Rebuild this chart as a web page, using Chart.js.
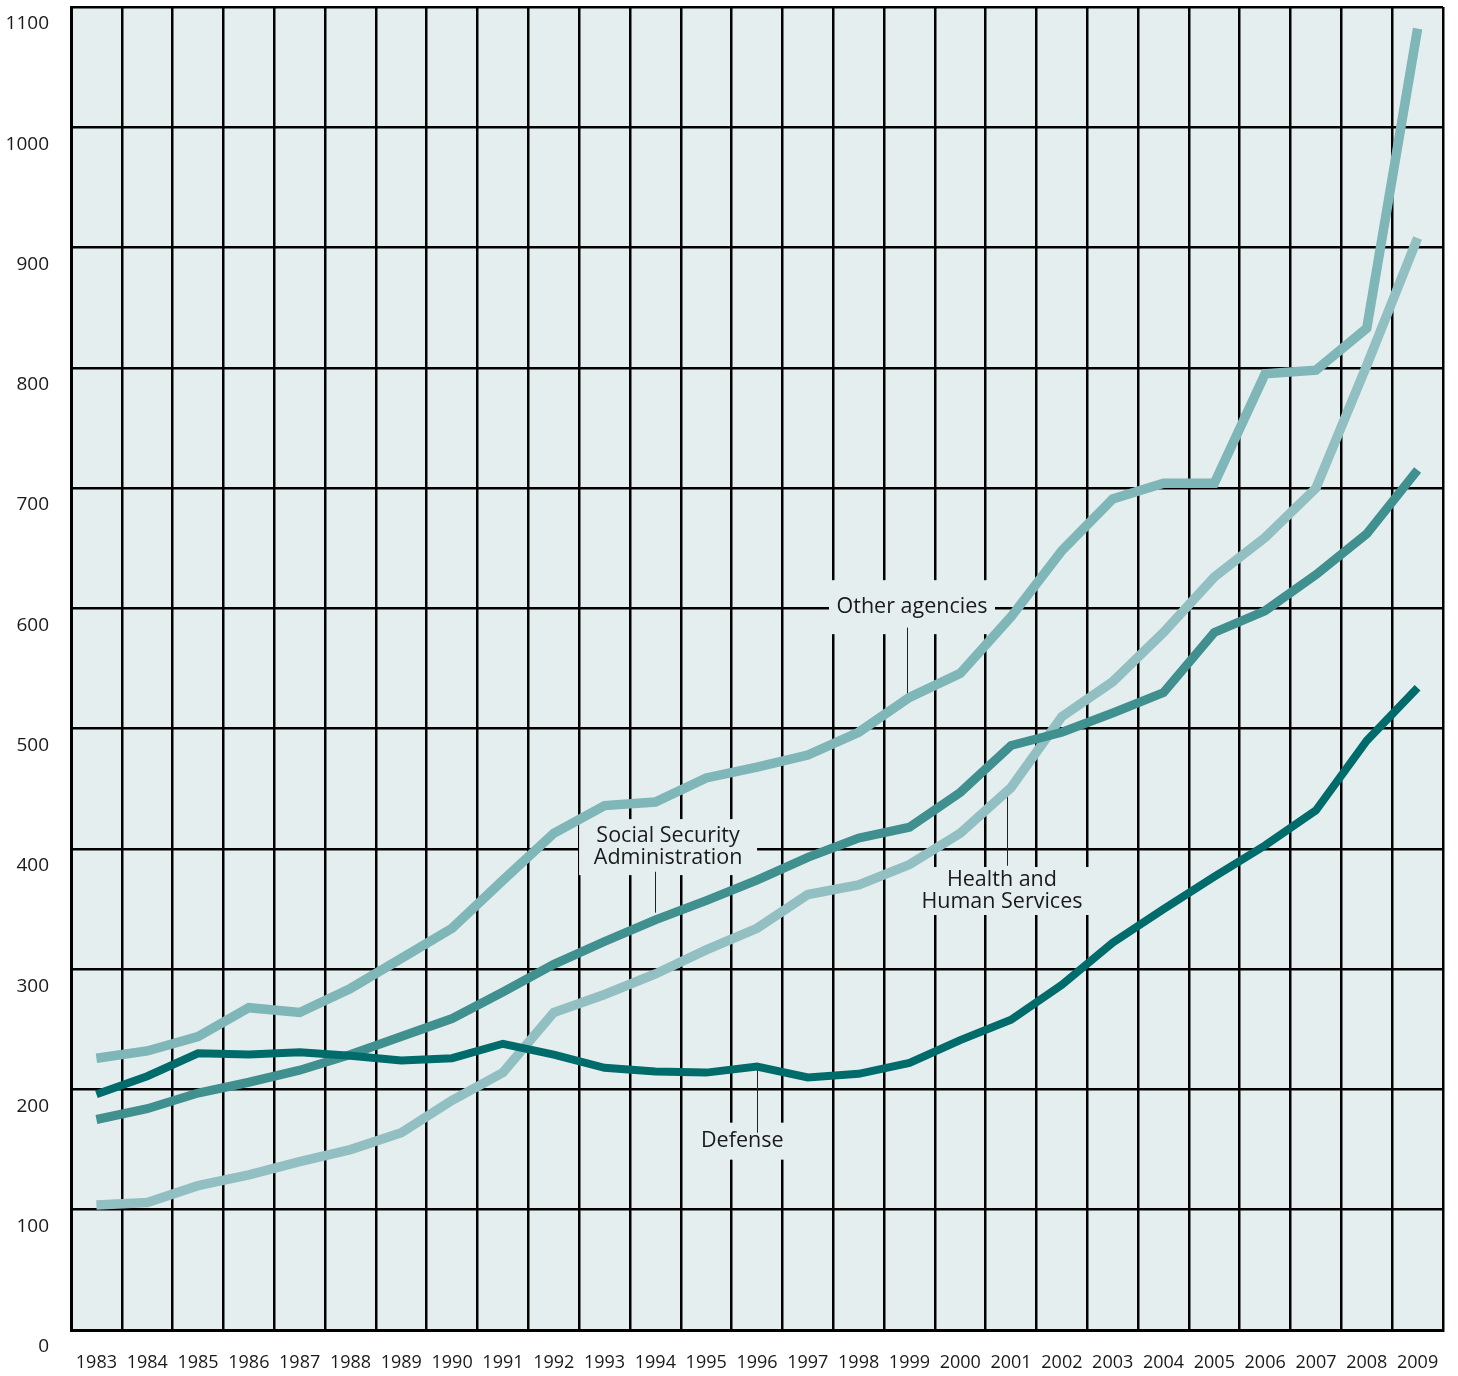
<!DOCTYPE html>
<html>
<head>
<meta charset="utf-8">
<script src="https://cdn.jsdelivr.net/npm/chart.js"></script>
<style>
  html, body { margin: 0; padding: 0; background: #ffffff; }
  #wrap { width: 1458px; height: 1376px; position: relative; }
</style>
</head>
<body>
<div id="wrap"><canvas id="chart" width="1458" height="1376"></canvas></div>
<script>
const years = ['1983', '1984', '1985', '1986', '1987', '1988', '1989', '1990', '1991', '1992', '1993', '1994', '1995',
  '1996', '1997', '1998', '1999', '2000', '2001', '2002', '2003', '2004', '2005', '2006', '2007', '2008', '2009']

const otherAgencies = [226, 232, 244, 268, 264, 284, 309, 334, 374, 413, 436, 439, 459, 468, 478, 497, 526, 546, 593, 648, 691, 704, 704, 795, 798, 833, 1082]
const healthHuman = [104, 106, 120, 129, 140, 150, 164, 191, 214, 264, 279, 296, 316, 334, 362, 370, 387, 413, 451, 510, 539, 580, 626, 659, 700, 802, 908]
const socialSecurity = [175, 184, 197, 206, 216, 229, 244, 259, 281, 304, 323, 341, 357, 374, 393, 409, 418, 447, 486, 497, 513, 530, 580, 598, 628, 662, 715]
const defense = [196, 211, 230, 229, 231, 228, 224, 226, 238, 229, 218, 215, 214, 219, 210, 213, 222, 241, 258, 287, 322, 350, 377, 403, 432, 490, 534]

const yTicks = [0, 100, 200, 300, 400, 500, 600, 700, 800, 900, 1000, 1100]

// callout labels: centre (category index, value), box size in px, leader line (index, value from, value to)
const notes = [
  { lines: ['Other agencies'], at: [16.05, 601], box: [166, 54], leader: [15.95, 584, 526] },
  { lines: ['Social Security', 'Administration'], at: [11.25, 401.5], box: [178, 56], leader: [11.0, 381, 347] },
  { lines: ['Health and', 'Human Services'], at: [17.82, 365], box: [180, 48], leader: [17.92, 445, 386] },
  { lines: ['Defense'], at: [12.71, 157], box: [92, 37], leader: [13.0, 218, 164] }
]

const BG = '#e5eeef'
const FONT = "'Open Sans', 'Noto Sans', sans-serif"

const backdrop = {
  id: 'backdrop',
  beforeDraw(chart) {
    const { ctx, chartArea: a } = chart
    ctx.save()
    ctx.fillStyle = BG
    ctx.fillRect(a.left, a.top, a.right - a.left, a.bottom - a.top)
    ctx.restore()
  }
}

const callouts = {
  id: 'callouts',
  beforeDatasetsDraw(chart) {
    const { ctx, scales: { x, y } } = chart
    ctx.save()
    notes.forEach(n => {
      const cx = x.getPixelForValue(n.at[0])
      const cy = y.getPixelForValue(n.at[1])
      ctx.fillStyle = BG
      ctx.fillRect(cx - n.box[0] / 2, cy - n.box[1] / 2, n.box[0], n.box[1])

      const lx = Math.round(x.getPixelForValue(n.leader[0])) + 0.5
      ctx.strokeStyle = '#222'
      ctx.lineWidth = 1
      ctx.beginPath()
      ctx.moveTo(lx, y.getPixelForValue(n.leader[1]))
      ctx.lineTo(lx, y.getPixelForValue(n.leader[2]))
      ctx.stroke()

      ctx.fillStyle = '#1a1a1a'
      ctx.font = `21.5px ${FONT}`
      ctx.textAlign = 'center'
      ctx.textBaseline = 'middle'
      const lh = 22
      const top = cy - (n.lines.length - 1) * lh / 2
      n.lines.forEach((t, i) => ctx.fillText(t, cx, top + i * lh))
    })
    ctx.restore()
  }
}

const lineStyle = (data, color, width) => ({
  data: data,
  borderColor: color,
  borderWidth: width,
  pointRadius: 0,
  tension: 0,
  fill: false,
  borderCapStyle: 'butt',
  borderJoinStyle: 'miter'
})

new Chart(document.getElementById('chart'), {
  type: 'line',
  data: {
    labels: years,
    datasets: [
      lineStyle(defense, '#006b6b', 8),
      lineStyle(socialSecurity, '#40908f', 9),
      lineStyle(healthHuman, '#92c0c2', 9.5),
      lineStyle(otherAgencies, '#7fb6b7', 9.5)
    ]
  },
  options: {
    responsive: false,
    animation: false,
    layout: { padding: { top: 7, right: 15, left: 0, bottom: 0 } },
    plugins: {
      legend: { display: false },
      tooltip: { enabled: false }
    },
    scales: {
      x: {
        offset: true,
        grid: { offset: true, color: '#000', lineWidth: 2.5, drawTicks: false },
        border: { color: '#000', width: 3 },
        ticks: {
          autoSkip: false,
          maxRotation: 0,
          padding: 22,
          color: '#1a1a1a',
          font: { family: FONT, size: 18 }
        },
        afterFit: s => { s.height = 46; s.paddingLeft = 0; s.paddingRight = 0 }
      },
      y: {
        min: 0,
        max: 1100,
        afterBuildTicks: s => { s.ticks = yTicks.map(v => ({ value: v })) },
        grid: { color: '#000', lineWidth: 2.5, drawTicks: false },
        border: { color: '#000', width: 3 },
        ticks: {
          padding: 22,
          labelOffset: 17,
          color: '#1a1a1a',
          font: { family: FONT, size: 19 },
          callback: v => String(v)
        },
        afterFit: s => { s.width = 71; s.paddingTop = 0; s.paddingBottom = 0 }
      }
    }
  },
  plugins: [backdrop, callouts]
})
</script>
</body>
</html>
